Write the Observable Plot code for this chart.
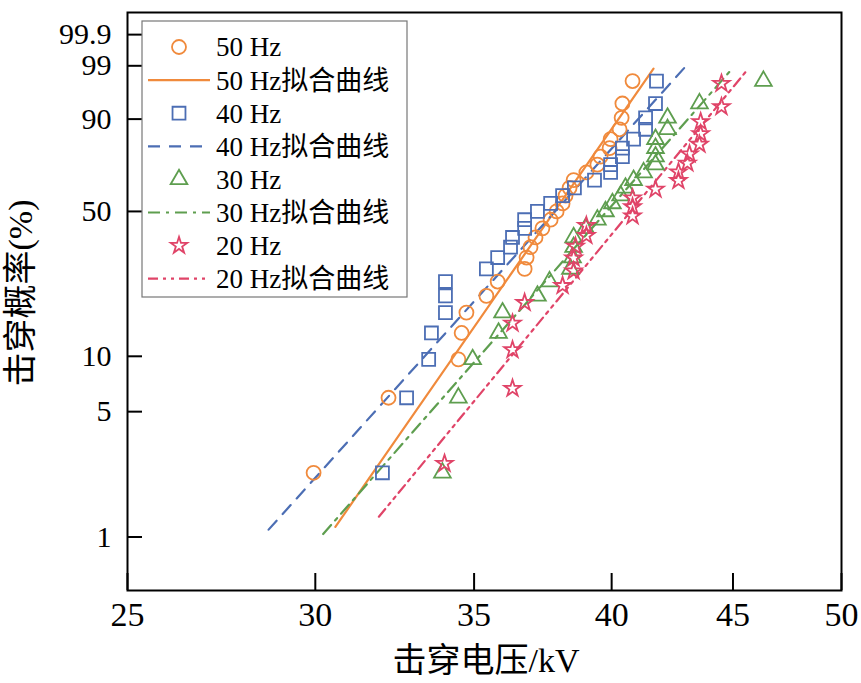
<!DOCTYPE html>
<html><head><meta charset="utf-8">
<script src="https://cdn.jsdelivr.net/npm/d3@7"></script>
<script src="https://cdn.jsdelivr.net/npm/@observablehq/plot@0.6"></script>
<style>body{margin:0;background:#fff} svg{display:block}</style>
</head><body><div id="chart"></div>
<script>
const FONT = "'Liberation Serif','Times New Roman','Noto Sans CJK SC',serif";

// cumulative breakdown probability (%)
const pct27 = [2.29, 5.96, 9.63, 13.30, 16.97, 20.64, 24.31, 27.98, 31.65, 35.32, 38.99, 42.66, 46.33, 50.00, 53.67, 57.34, 61.01, 64.68, 68.35, 72.02, 75.69, 79.36, 83.03, 86.70, 90.37, 94.04, 97.71];
const pct20 = [2.58, 6.70, 10.82, 14.95, 19.07, 23.20, 27.32, 31.44, 35.57, 39.69, 43.81, 47.94, 52.06, 56.19, 60.31, 64.43, 68.56, 72.68, 76.80, 80.93, 85.05, 89.18, 93.30, 97.42];

// breakdown voltages (kV)
const v50 = [29.95, 32.21, 34.47, 34.58, 34.74, 35.42, 35.81, 36.76, 36.83, 36.97, 37.15, 37.40, 37.70, 37.92, 38.14, 38.25, 38.40, 38.55, 39.03, 39.45, 39.57, 39.92, 39.96, 40.31, 40.39, 40.42, 40.82];
const v40 = [32.02, 32.78, 33.49, 33.58, 34.04, 34.04, 34.04, 35.42, 35.81, 36.26, 36.33, 36.76, 36.76, 37.22, 37.70, 38.14, 38.58, 39.34, 39.96, 39.96, 40.42, 40.42, 40.86, 41.34, 41.34, 41.74, 41.78];
const v30 = [33.94, 34.47, 34.95, 35.84, 35.98, 37.22, 37.66, 38.43, 38.51, 38.55, 38.55, 39.00, 39.45, 39.76, 40.03, 40.35, 40.54, 40.86, 41.26, 41.74, 41.74, 41.74, 41.74, 42.23, 42.23, 43.56, 46.35];
const v20 = [34.01, 36.33, 36.33, 36.33, 36.76, 38.14, 38.55, 38.55, 38.62, 39.03, 39.03, 40.82, 40.82, 40.82, 41.74, 42.68, 42.68, 43.05, 43.14, 43.56, 43.61, 43.61, 44.50, 44.50];

// fitted Weibull lines (end points: kV, %)
const fit50V = [30.59, 41.66], fit50P = [1.14, 98.82];
const fit40V = [28.67, 42.93], fit40P = [1.10, 98.88];
const fit30V = [30.23, 44.89], fit30P = [1.04, 98.67];
const fit20V = [31.91, 45.60], fit20P = [1.30, 98.67];

const xTicks = [25, 30, 35, 40, 45, 50];
const yTicks = [1, 5, 10, 50, 90, 99, 99.9];
const yTickLabels = ["1", "5", "10", "50", "90", "99", "99.9"];
const yDomainPct = [0.5, 99.99];
const xDomain = [25, 50];

const seriesNames = ["50 Hz", "40 Hz", "30 Hz", "20 Hz"];
const fitNames = ["50 Hz拟合曲线", "40 Hz拟合曲线", "30 Hz拟合曲线", "20 Hz拟合曲线"];
const colors = ["#F08A3C", "#4C6EB4", "#5E9E4F", "#E04468"];
const symbols = ["circle", "square", "triangle", "star"];
const radii = [7, 7.3, 6.2, 5.2];
const dashes = [null, "12,9", "12,6,3,6", "10,5,3,5,3,5"];
const xLabel = "击穿电压/kV";
const yLabel = "击穿概率(%)";

const weib = p => Math.log(-Math.log(1 - p / 100));
const toPts = (v, p) => v.map((x, i) => ({v: x, p: p[i]}));

const pointSets = [toPts(v50, pct27), toPts(v40, pct27), toPts(v30, pct27), toPts(v20, pct20)];
const fitSets = [toPts(fit50V, fit50P), toPts(fit40V, fit40P), toPts(fit30V, fit30P), toPts(fit20V, fit20P)];

const yLabelFor = d => {
  let bi = 0, bd = Infinity;
  yTicks.forEach((t, i) => { const dd = Math.abs(weib(t) - d); if (dd < bd) { bd = dd; bi = i; } });
  return yTickLabels[bi];
};

const marks = [
  Plot.frame({stroke: "black", strokeWidth: 2}),
  Plot.tickX(xTicks, {x: d => d, insetTop: 561, stroke: "black", strokeWidth: 2}),
  Plot.tickY(yTicks, {y: d => weib(d), insetRight: 699, stroke: "black", strokeWidth: 2}),
  Plot.axisX({ticks: xTicks, tickSize: 0, tickPadding: 11, fontSize: 34, tickFormat: d => String(d), label: null}),
  Plot.axisY({ticks: yTicks.map(weib), tickSize: 0, tickPadding: 16, fontSize: 30, tickFormat: yLabelFor, label: null})
];
fitSets.forEach((data, i) => {
  marks.push(Plot.line(data, {x: "v", y: d => weib(d.p), stroke: colors[i], strokeWidth: 2.2, strokeDasharray: dashes[i] || undefined}));
});
pointSets.forEach((data, i) => {
  marks.push(Plot.dot(data, {x: "v", y: d => weib(d.p), symbol: symbols[i], r: radii[i], stroke: colors[i], strokeWidth: 1.8, fill: "none"}));
});

const plot = Plot.plot({
  width: 861, height: 683,
  marginLeft: 127, marginRight: 20, marginTop: 12, marginBottom: 93,
  style: {fontFamily: FONT, background: "white", color: "black"},
  x: {type: "log", domain: xDomain},
  y: {type: "linear", domain: yDomainPct.map(weib)},
  marks
});

const svg = d3.select(plot);

// axis titles
svg.append("text").attr("x", 486).attr("y", 660).attr("dy", "0.35em")
  .attr("text-anchor", "middle").attr("font-family", FONT).attr("font-size", 34).attr("fill", "black").text(xLabel);
svg.append("text").attr("transform", "translate(20,293) rotate(-90)").attr("dy", "0.35em")
  .attr("text-anchor", "middle").attr("font-family", FONT).attr("font-size", 34).attr("fill", "black").text(yLabel);

// legend
const lg = svg.append("g").attr("font-family", FONT).attr("font-size", 27).attr("text-anchor", "start");
lg.append("rect").attr("x", 142).attr("y", 21).attr("width", 265).attr("height", 276)
  .attr("fill", "white").attr("stroke", "#777").attr("stroke-width", 1.2);
const symTypes = {circle: d3.symbolCircle, square: d3.symbolSquare, triangle: d3.symbolTriangle, star: d3.symbolStar};
seriesNames.forEach((name, i) => {
  const y1 = 47 + (2 * i) * 33.1, y2 = 47 + (2 * i + 1) * 33.1;
  lg.append("path").attr("transform", `translate(179,${y1})`)
    .attr("d", d3.symbol(symTypes[symbols[i]], Math.PI * radii[i] * radii[i])())
    .attr("fill", "none").attr("stroke", colors[i]).attr("stroke-width", 1.8);
  lg.append("text").attr("x", 216).attr("y", y1).attr("dy", "0.35em").attr("fill", "black").text(name);
  const ln = lg.append("line").attr("x1", 148).attr("x2", 210).attr("y1", y2).attr("y2", y2)
    .attr("stroke", colors[i]).attr("stroke-width", 2.2);
  if (dashes[i]) ln.attr("stroke-dasharray", dashes[i]);
  lg.append("text").attr("x", 216).attr("y", y2).attr("dy", "0.35em").attr("fill", "black").text(fitNames[i]);
});

document.getElementById("chart").appendChild(plot);
</script>
</body></html>
